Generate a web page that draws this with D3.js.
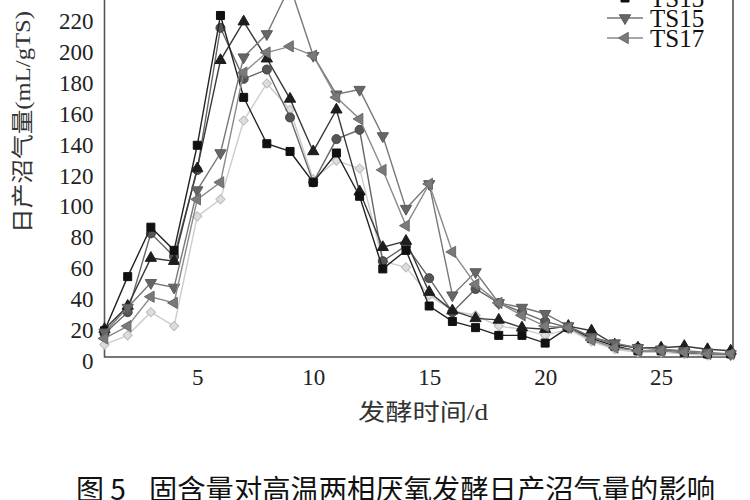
<!DOCTYPE html>
<html>
<head>
<meta charset="utf-8">
<script src="https://cdn.jsdelivr.net/npm/d3@7"></script>
<style>
    html, body {margin: 0; padding: 0; background: #fff;}
    svg {display: block;}
</style>
</head>
<body>
<main></main>
<script>

// fermentation day 1..28
var days = d3.range(1, 29);

var seriesNames = ["TS7", "TS9", "TS11", "TS13", "TS15", "TS17"];

// daily biogas yield, mL/gTS
var ts7  = [8, 14, 29, 20, 91, 102, 153, 177, 160, 115, 127, 122, 62, 58, 40, 30, 27, 20, 18, 14, 18, 10, 5, 3, 3, 2, 1, 1],
    ts9  = [15, 29, 80, 65, 121, 213, 180, 186, 155, 113, 141, 147, 62, 72, 51, 29, 44, 35, 29, 23, 19, 13, 8, 6, 5, 3, 2, 2],
    ts11 = [18, 33, 64, 62, 122, 192, 217, 193, 167, 133, 160, 107, 71, 75, 42, 30, 25, 24, 19, 18, 20, 17, 8, 6, 6, 7, 5, 4],
    ts13 = [17, 52, 84, 69, 137, 221, 168, 138, 133, 113, 132, 104, 57, 69, 33, 23, 19, 14, 14, 9, 19, 12, 7, 4, 4, 3, 2, 2],
    ts15 = [16, 32, 48, 45, 108, 132, 194, 209, 240, 195, 170, 173, 143, 96, 112, 40, 55, 35, 32, 28, 20, 13, 9, 6, 5, 4, 3, 2],
    ts17 = [12, 20, 39, 35, 102, 113, 184, 197, 201, 195, 168, 154, 121, 85, 112, 68, 47, 35, 27, 20, 19, 11, 6, 4, 4, 3, 2, 2];

var xTicks = [5, 10, 15, 20, 25],
    yTicks = d3.range(0, 221, 20);

(function () {

    var width = 750,
        height = 500,
        plot = {left: 104.5, right: 733, top: 17, bottom: 357};

    var svg = d3.select("main")
            .append("svg")
            .attr("width", width)
            .attr("height", height);

    var x = d3.scaleLinear()
            .domain([1, 28.1])
            .range([plot.left, plot.right]),
        y = d3.scaleLinear()
            .domain([0, 220])
            .range([plot.bottom, plot.top]);

    var styles = [
        {symbol: d3.symbolSquare, rotate: 45, size: 42, fill: "#ddd", stroke: "#bbb", line: "#ccc"},
        {symbol: d3.symbolCircle, rotate: 0, size: 64, fill: "#555", stroke: "#444", line: "#666"},
        {symbol: d3.symbolTriangle, rotate: 0, size: 55, fill: "#1e1e1e", stroke: "#1e1e1e", line: "#3a3a3a"},
        {symbol: d3.symbolSquare, rotate: 0, size: 64, fill: "#111", stroke: "#111", line: "#222"},
        {symbol: d3.symbolTriangle, rotate: 180, size: 55, fill: "#666", stroke: "#5a5a5a", line: "#777"},
        {symbol: d3.symbolTriangle, rotate: -90, size: 55, fill: "#7a7a7a", stroke: "#6a6a6a", line: "#8a8a8a"}
    ];

    var series = [ts7, ts9, ts11, ts13, ts15, ts17].map(function (values, i) {
        return {
            name: seriesNames[i],
            style: styles[i],
            points: days.map(function (d, j) { return {day: d, value: values[j]}; })
        };
    });

    var Marker = function (style) {
            return d3.symbol().type(style.symbol).size(style.size)();
        },
        Axes = function () {
            svg.append("g")
                .attr("class", "x-axis")
                .attr("transform", "translate(0," + plot.bottom + ")")
                .call(d3.axisBottom(x).tickValues(xTicks).tickSize(0).tickPadding(12))
                .call(function (g) {
                    g.select(".domain").remove();
                    g.selectAll("text")
                        .attr("font-family", "'Liberation Serif', serif")
                        .attr("font-size", 23)
                        .attr("fill", "#222");
                });

            svg.append("g")
                .attr("class", "y-axis")
                .attr("transform", "translate(" + plot.left + ",0)")
                .call(d3.axisLeft(y).tickValues(yTicks).tickSize(0).tickPadding(11))
                .call(function (g) {
                    g.select(".domain").remove();
                    g.selectAll("text")
                        .attr("dy", "0.5em")
                        .attr("font-family", "'Liberation Serif', serif")
                        .attr("font-size", 23)
                        .attr("fill", "#222");
                });

            // plot frame, its top runs above the picture
            svg.append("rect")
                .attr("x", plot.left)
                .attr("y", y(250))
                .attr("width", plot.right - plot.left)
                .attr("height", plot.bottom - y(250))
                .attr("fill", "none")
                .attr("stroke", "#555")
                .attr("stroke-width", 1.6);
        },
        Series = function (s) {
            var g = svg.append("g").attr("class", "series");
            g.append("path")
                .datum(s.points)
                .attr("fill", "none")
                .attr("stroke", s.style.line)
                .attr("stroke-width", 1.4)
                .attr("d", d3.line()
                    .x(function (d) { return x(d.day); })
                    .y(function (d) { return y(d.value); }));
            g.selectAll("path.mark")
                .data(s.points)
                .enter()
                .append("path")
                .attr("class", "mark")
                .attr("d", Marker(s.style))
                .attr("transform", function (d) {
                    return "translate(" + x(d.day) + "," + y(d.value) + ") rotate(" + s.style.rotate + ")";
                })
                .attr("fill", s.style.fill)
                .attr("stroke", s.style.stroke)
                .attr("stroke-width", 1);
        },
        Legend = function () {
            var rowY = function (i) { return 38 - (series.length - 1 - i) * 20; },
                rows = svg.append("g")
                    .attr("class", "legend")
                    .selectAll("g")
                    .data(series)
                    .enter()
                    .append("g")
                    .attr("transform", function (d, i) { return "translate(607," + rowY(i) + ")"; });
            rows.append("line")
                .attr("x1", 0)
                .attr("x2", 36)
                .attr("stroke", function (d) { return d.style.line; })
                .attr("stroke-width", 1.4);
            rows.append("path")
                .attr("d", function (d) { return Marker(d.style); })
                .attr("transform", function (d) { return "translate(18,0) rotate(" + d.style.rotate + ")"; })
                .attr("fill", function (d) { return d.style.fill; })
                .attr("stroke", function (d) { return d.style.stroke; });
            rows.append("text")
                .attr("x", 43)
                .attr("dy", "0.35em")
                .attr("font-family", "'Liberation Serif', serif")
                .attr("font-size", 25)
                .attr("fill", "#111")
                .text(function (d) { return d.name; });
        },
        Titles = function () {
            svg.append("text")
                .attr("transform", "translate(22,122) rotate(-90)")
                .attr("text-anchor", "middle")
                .attr("dy", "0.35em")
                .attr("font-family", "'Liberation Serif', 'Noto Sans CJK SC', serif")
                .attr("font-size", 22)
                .attr("fill", "#333")
                .attr("textLength", 222)
                .attr("lengthAdjust", "spacingAndGlyphs")
                .text("日产沼气量(mL/gTS)");

            svg.append("text")
                .attr("x", 423)
                .attr("y", 420)
                .attr("text-anchor", "middle")
                .attr("font-family", "'Liberation Serif', 'Noto Sans CJK SC', serif")
                .attr("font-size", 23)
                .attr("fill", "#333")
                .attr("textLength", 130)
                .attr("lengthAdjust", "spacingAndGlyphs")
                .text("发酵时间/d");

            svg.append("text")
                .attr("x", 76)
                .attr("y", 500)
                .attr("font-family", "'Noto Sans CJK SC', sans-serif")
                .attr("font-size", 28)
                .attr("fill", "#111")
                .text("图 5");

            svg.append("text")
                .attr("x", 149)
                .attr("y", 500)
                .attr("font-family", "'Noto Sans CJK SC', sans-serif")
                .attr("font-size", 28)
                .attr("fill", "#111")
                .attr("textLength", 566)
                .attr("lengthAdjust", "spacingAndGlyphs")
                .text("固含量对高温两相厌氧发酵日产沼气量的影响");
        };

    Axes();
    series.forEach(Series);
    Legend();
    Titles();

})();
</script>
</body>
</html>
